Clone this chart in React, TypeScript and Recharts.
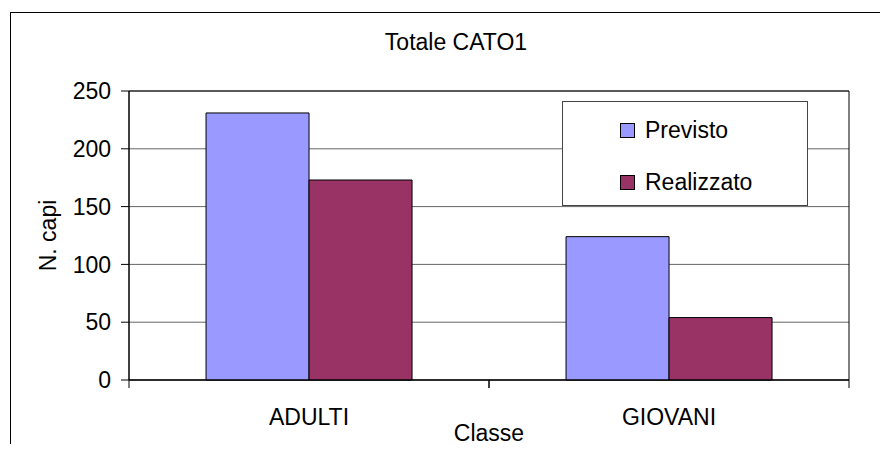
// Grafico a barre: Totale CATO1 (Previsto vs Realizzato per classe)

import React from 'react';
import { BarChart, Bar, XAxis, YAxis, CartesianGrid, ReferenceArea, Label } from 'recharts';

const classi = ['ADULTI', 'GIOVANI'];
const previsto = [231, 124];
const realizzato = [173, 54];
const yTicks = [0, 50, 100, 150, 200, 250];
const serie = ['Previsto', 'Realizzato'] as const;

const data = classi.map((classe, i) => ({
  classe,
  Previsto: previsto[i],
  Realizzato: realizzato[i],
}));

const FONT = '"Liberation Sans", Arial, sans-serif';
const FS = 23;
const COLORS = { Previsto: '#9999FF', Realizzato: '#993366' };

const CategoryTick = (props: any) => {
  const { x, y, payload } = props;
  const half = payload && payload.offset ? payload.offset : 180;
  return (
    <g>
      <line x1={x - half} y1={y} x2={x - half} y2={y + 8} stroke="#000" />
      <line x1={x + half} y1={y} x2={x + half} y2={y + 8} stroke="#000" />
      <text x={x} y={y + 37} textAnchor="middle" dominantBaseline="central" fontSize={FS} fontFamily={FONT} fill="#000">
        {payload.value}
      </text>
    </g>
  );
};

// legenda disegnata fuori dal grafico per non ridurre l'area del plot
const ChartLegend = () => (
  <div
    style={{
      position: 'absolute',
      left: 554,
      top: 93,
      width: 246,
      height: 105,
      boxSizing: 'border-box',
      border: '1px solid #444',
      background: '#fff',
      fontFamily: FONT,
      fontSize: FS,
    }}
  >
    {serie.map((name, i) => (
      <div
        key={name}
        style={{ position: 'absolute', left: 57, top: 15 + i * 52, height: 26, display: 'flex', alignItems: 'center' }}
      >
        <span
          style={{
            width: 13,
            height: 13,
            border: '1px solid #000',
            background: COLORS[name],
            display: 'inline-block',
            marginRight: 10,
          }}
        />
        <span style={{ color: '#000' }}>{name}</span>
      </div>
    ))}
  </div>
);

export default function App() {
  return (
    <div style={{ position: 'relative', width: 880, height: 444, marginBottom: -8, overflow: 'hidden', background: '#fff' }}>
      <div
        style={{
          position: 'absolute',
          left: 2,
          top: 4,
          width: 1000,
          height: 1000,
          borderLeft: '1px solid #000',
          borderTop: '1px solid #000',
        }}
      />
      <div
        style={{
          position: 'absolute',
          left: 448,
          top: 34,
          transform: 'translate(-50%, -50%)',
          fontFamily: FONT,
          fontSize: FS,
          color: '#000',
          whiteSpace: 'nowrap',
        }}
      >
        Totale CATO1
      </div>
      <BarChart
        width={872}
        height={444}
        data={data}
        margin={{ top: 83, right: 31, bottom: 8, left: 21 }}
        barCategoryGap="21.4%"
        barGap={0}
        style={{ position: 'absolute', left: 0, top: 0 }}
      >
        <CartesianGrid horizontal vertical={false} stroke="#666" strokeOpacity={1} />
        <ReferenceArea y1={0} y2={250} stroke="#000" fill="none" strokeWidth={1} ifOverflow="visible" />
        <XAxis
          dataKey="classe"
          height={64}
          axisLine={{ stroke: '#000' }}
          tickLine={false}
          tickSize={0}
          tickMargin={0}
          tick={<CategoryTick />}
          interval={0}
        >
          <Label
            content={(p: any) => {
              const vb = p.viewBox;
              return (
                <text x={vb.x + vb.width / 2} y={vb.y + 53} textAnchor="middle" dominantBaseline="central" fontSize={FS} fontFamily={FONT} fill="#000">
                  Classe
                </text>
              );
            }}
          />
        </XAxis>
        <YAxis
          width={100}
          domain={[0, 250]}
          ticks={yTicks}
          interval={0}
          axisLine={{ stroke: '#000' }}
          tickLine={{ stroke: '#000' }}
          tickSize={8}
          tickMargin={10}
          tick={{ fontSize: FS, fontFamily: FONT, fill: '#000' }}
        >
          <Label
            content={(p: any) => {
              const vb = p.viewBox;
              const cx = vb.x + 19;
              const cy = vb.y + vb.height / 2;
              return (
                <text x={cx} y={cy} transform={`rotate(-90 ${cx} ${cy})`} textAnchor="middle" dominantBaseline="central" fontSize={FS} fontFamily={FONT} fill="#000">
                  N. capi
                </text>
              );
            }}
          />
        </YAxis>
        <Bar dataKey="Previsto" fill={COLORS.Previsto} stroke="#000" strokeWidth={1} isAnimationActive={false} />
        <Bar dataKey="Realizzato" fill={COLORS.Realizzato} stroke="#000" strokeWidth={1} isAnimationActive={false} />
      </BarChart>
      <ChartLegend />
    </div>
  );
}
